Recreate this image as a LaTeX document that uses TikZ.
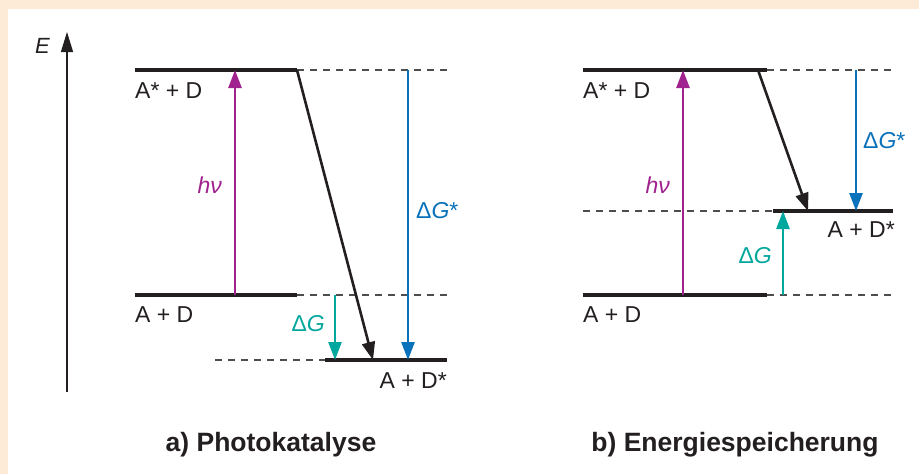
\documentclass[tikz,border=0pt]{standalone}
\usepackage{fontspec}
\setmainfont{Liberation Sans}
\usetikzlibrary{arrows.meta}
\definecolor{peach}{HTML}{FDEBD8}
\definecolor{hvcol}{HTML}{A0228E}
\definecolor{gstar}{HTML}{0A72BA}
\definecolor{gcol}{HTML}{00A79D}
\definecolor{ink}{HTML}{231F20}
\begin{document}
\begin{tikzpicture}[x=1pt,y=-1pt,
  level/.style={draw=ink,line width=3.3pt},
  dashline/.style={draw=ink!80,line width=1.3pt,dash pattern=on 7pt off 6pt},
  arr/.style={line width=2.6pt,-{Triangle[length=18pt,width=13pt]}},
  lbl/.style={font=\fontsize{23}{26}\selectfont,text=ink,inner sep=0pt},
  ilbl/.style={lbl,font=\fontsize{23}{26}\itshape\selectfont},
  title/.style={font=\fontsize{26.5}{30}\bfseries\selectfont,text=ink,inner sep=0pt}]
\useasboundingbox (0,0) rectangle (919,474);
\fill[peach] (0,0) rectangle (919,474);
\fill[white] (8,9) rectangle (919,474);

% energy axis
\coordinate (axB) at (67,392);
\coordinate (axT) at (67,32);
\draw[draw=ink,line width=1.4pt,-{Triangle[length=20pt,width=12pt]}] (axB) -- (axT);
\node[lbl,font=\fontsize{22}{26}\itshape\selectfont,anchor=base east] (E) at (50,53) {E};

% ---------- panel a ----------
\coordinate (aT1) at (135,70);  \coordinate (aT2) at (297,70);  \coordinate (aT3) at (450,70);
\coordinate (aM1) at (135,295); \coordinate (aM2) at (297,295); \coordinate (aM3) at (450,295);
\coordinate (aL0) at (215,360); \coordinate (aL1) at (325,360); \coordinate (aL2) at (447,360);
\draw[level] (aT1) -- (aT2);
\draw[dashline] (aT2) -- (aT3);
\draw[level] (aM1) -- (aM2);
\draw[dashline] (aM2) -- (aM3);
\draw[dashline] (aL0) -- (aL1);
\draw[level] (aL1) -- (aL2);
\node[lbl,anchor=base west] (aTl) at (135,98) {A* + D};
\node[lbl,anchor=base west] (aMl) at (135,322) {A + D};
\node[lbl,anchor=base east] (aLl) at (447,388) {A + D*};

\coordinate (aPh0) at (235,295); \coordinate (aPh1) at (235,70);
\draw[arr,hvcol] (aPh0) -- (aPh1);
\node[ilbl,text=hvcol,anchor=base east] (ahv) at (222,193) {hν};

\coordinate (aBk1) at (373,360);
\draw[arr,ink] (aT2) -- (aBk1);

\coordinate (aGs0) at (408,70); \coordinate (aGs1) at (408,360);
\draw[arr,gstar] (aGs0) -- (aGs1);
\node[lbl,text=gstar,anchor=base west] (aGsl) at (416,218) {Δ\textit{G}*};

\coordinate (aG0) at (335,295); \coordinate (aG1) at (335,360);
\draw[arr,gcol] (aG0) -- (aG1);
\node[lbl,text=gcol,anchor=base east] (aGl) at (325,331) {Δ\textit{G}};

% ---------- panel b ----------
\coordinate (bT1) at (583,70);  \coordinate (bT2) at (767,70);  \coordinate (bT3) at (895,70);
\coordinate (bM0) at (583,211); \coordinate (bM1) at (773,211); \coordinate (bM2) at (893,211);
\coordinate (bL1) at (583,295); \coordinate (bL2) at (767,295); \coordinate (bL3) at (895,295);
\draw[level] (bT1) -- (bT2);
\draw[dashline] (bT2) -- (bT3);
\draw[dashline] (bM0) -- (bM1);
\draw[level] (bM1) -- (bM2);
\draw[level] (bL1) -- (bL2);
\draw[dashline] (bL2) -- (bL3);
\node[lbl,anchor=base west] (bTl) at (583,98) {A* + D};
\node[lbl,anchor=base east] (bMl) at (895,237) {A + D*};
\node[lbl,anchor=base west] (bLl) at (583,322) {A + D};

\coordinate (bPh0) at (683,295); \coordinate (bPh1) at (683,70);
\draw[arr,hvcol] (bPh0) -- (bPh1);
\node[ilbl,text=hvcol,anchor=base east] (bhv) at (670,193) {hν};

\coordinate (bBk0) at (758,70); \coordinate (bBk1) at (808,211);
\draw[arr,ink] (bBk0) -- (bBk1);

\coordinate (bGs0) at (856,70); \coordinate (bGs1) at (856,211);
\draw[arr,gstar] (bGs0) -- (bGs1);
\node[lbl,text=gstar,anchor=base west] (bGsl) at (863,148) {Δ\textit{G}*};

\coordinate (bG0) at (783,295); \coordinate (bG1) at (783,211);
\draw[arr,gcol] (bG0) -- (bG1);
\node[lbl,text=gcol,anchor=base east] (bGl) at (772,263) {Δ\textit{G}};

% titles
\node[title,anchor=base] (ta) at (271,451) {a) Photokatalyse};
\node[title,anchor=base] (tb) at (735,451) {b) Energiespeicherung};
\end{tikzpicture}
\end{document}
